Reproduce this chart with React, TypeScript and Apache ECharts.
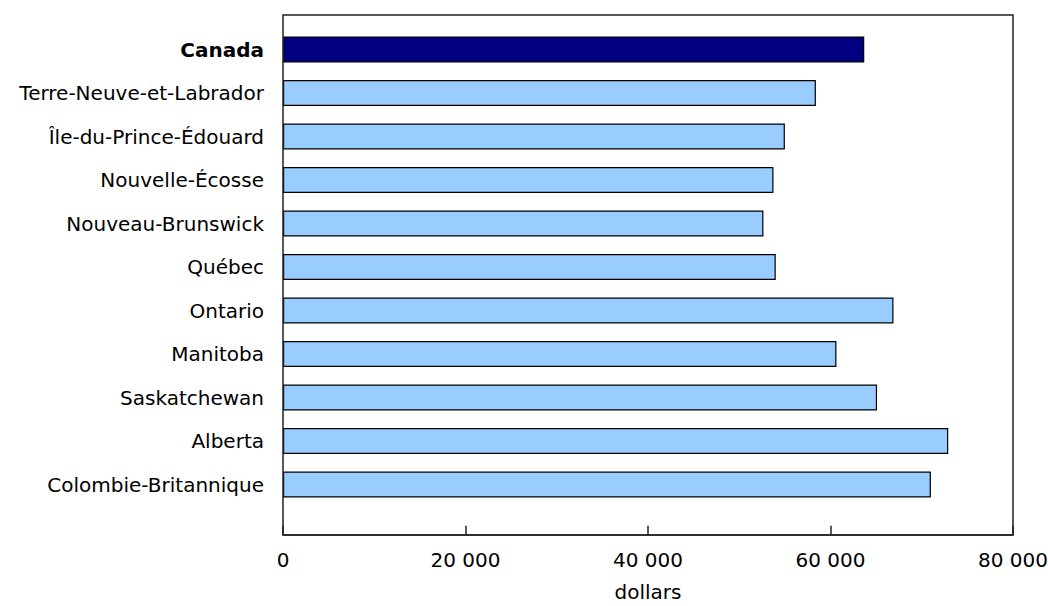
import React, { useEffect, useRef } from "react";
import * as echarts from "echarts";

const categories = [
  "Canada",
  "Terre-Neuve-et-Labrador",
  "Île-du-Prince-Édouard",
  "Nouvelle-Écosse",
  "Nouveau-Brunswick",
  "Québec",
  "Ontario",
  "Manitoba",
  "Saskatchewan",
  "Alberta",
  "Colombie-Britannique",
];
const values = [63700, 58400, 55000, 53750, 52650, 54000, 66900, 60650, 65100, 72900, 71000];
const xTicks = { min: 0, max: 80000, interval: 20000 };
const xAxisName = "dollars";
const highlightCategory = "Canada";

export default function App() {
  const ref = useRef<HTMLDivElement>(null);
  useEffect(() => {
    if (!ref.current) return;
    const chart = echarts.init(ref.current, null, { renderer: "svg" });
    const font = "'DejaVu Sans', Verdana, sans-serif";
    const fs = 20;
    chart.setOption({
      animation: false,
      grid: {
        left: 283,
        right: 35,
        top: 27.75,
        bottom: 99.75,
        containLabel: false,
        outerBoundsMode: "none",
      },
      xAxis: {
        type: "value",
        min: xTicks.min,
        max: xTicks.max,
        interval: xTicks.interval,
        position: "bottom",
        offset: 28.5,
        axisLine: { show: true, lineStyle: { color: "#222", width: 1.5 } },
        axisTick: { show: true, inside: true, length: 9, lineStyle: { color: "#222", width: 1.5 } },
        splitLine: { show: false },
        axisLabel: {
          color: "#000",
          fontFamily: font,
          fontSize: fs,
          margin: 15,
          formatter: (v: number) => String(v).replace(/\B(?=(\d{3})+(?!\d))/g, " "),
        },
        name: xAxisName,
        nameLocation: "middle",
        nameGap: 47,
        nameTextStyle: { color: "#000", fontFamily: font, fontSize: fs, lineHeight: 20 },
      },
      yAxis: {
        type: "category",
        data: categories,
        inverse: true,
        axisLine: { show: false },
        axisTick: { show: false },
        axisLabel: {
          color: "#000",
          fontFamily: font,
          fontSize: fs,
          margin: 19,
          formatter: (v: string) => (v === highlightCategory ? `{b|${v}}` : v),
          rich: {
            b: { fontWeight: "bold", fontFamily: font, fontSize: fs, color: "#000" },
          },
        },
      },
      graphic: [
        {
          type: "rect",
          shape: { x: 283, y: 15, width: 730, height: 520 },
          style: { fill: "none", stroke: "#222", lineWidth: 1.5 },
          silent: true,
          z: 10,
        },
      ],
      series: [
        {
          type: "bar",
          barWidth: 26,
          data: values.map((v, i) => ({
            value: v,
            itemStyle: {
              color: categories[i] === highlightCategory ? "#000080" : "#99CCFF",
              borderColor: "#000",
              borderWidth: 1.2,
            },
          })),
        },
      ],
    });
    return () => chart.dispose();
  }, []);
  return (
    <div
      ref={ref}
      style={{ position: "fixed", left: 0, top: 0, width: 1048, height: 606, background: "#fff" }}
    />
  );
}
